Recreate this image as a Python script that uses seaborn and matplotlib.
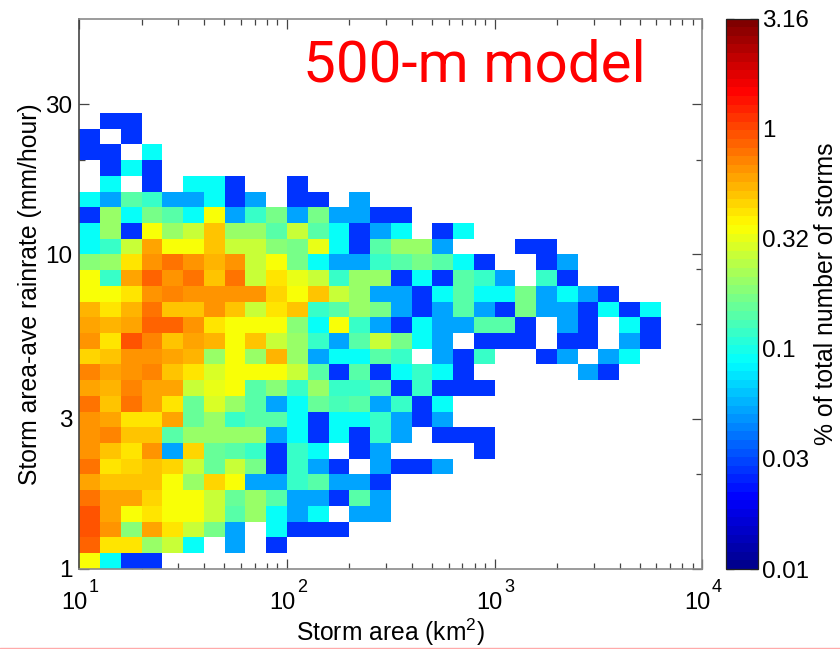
import numpy as np
import matplotlib
matplotlib.use("Agg")
import matplotlib.pyplot as plt
from matplotlib.colors import LinearSegmentedColormap
from matplotlib.lines import Line2D
import seaborn as sns

# =============================
# DATA: % of storms per bin (row_00 = lowest rainrate bin)
# =============================
N = np.nan
B = 0.027   # blue cells
A = 0.054   # light blue cells
C = 0.087   # cyan cells
T = 0.115   # turquoise cells
G = 0.14    # sea green cells

row_00 = [.335, C, B, B]
row_01 = [.85, .42, .42, .21, .27, C, N, A, N, B]
row_02 = [.98, .65, .19, .59, .42, .27, .17, A, N, C, B, B, B]
row_03 = [.98, .59, .335, .42, .36, .36, .27, G, .21, C, A, C, N, A, A]
row_04 = [.82, .59, .59, .46, .36, .36, .27, .155, .195, G, A, A, B, G, A]
row_05 = [.59, .51, .51, .51, .36, .21, .46, .36, A, A, T, G, A, A, B]
row_06 = [.75, .42, .46, .51, .46, .27, .155, .27, .17, B, T, A, B, N, A, B, B, A]
row_07 = [.65, .49, .42, .65, A, .46, .155, G, T, B, T, C, N, B, A, N, N, N, N, B]
row_08 = [.65, .71, .49, .49, G, .21, .195, .195, .21, A, C, B, C, B, T, A, N, B, B, B]
row_09 = [.68, .59, .42, .42, .59, .155, .21, T, G, G, C, B, C, C, T, A, B, A]
row_10 = [.75, .49, .75, .59, .42, .155, .30, .21, G, A, C, .155, .127, G, A, T, B, C]
row_11 = [.59, .57, .71, .59, .59, .27, .31, .335, G, .19, T, .195, T, T, G, B, T, B, B, B]
row_12 = [.71, .59, .65, .71, .51, .43, .30, .335, .36, .335, .27, G, B, G, B, C, T, C, B,
          N, N, N, N, N, A, B]
row_13 = [.46, .51, .65, .65, .59, .54, .21, .335, .21, .54, .195, A, C, C, G, T, N, A, B, T,
          N, N, B, A, N, A, C]
row_14 = [.65, .42, .90, .71, .49, .59, .55, .36, .49, .27, .21, T, A, G, .27, .17, C, A, N,
          B, B, B, N, B, B, N, A, B]
row_15 = [.59, .54, .59, .85, .85, .65, .42, .335, .335, .36, .19, C, .335, T, A, B, C, A, A,
          G, G, B, N, A, B, N, C, B]
row_16 = [.57, .42, .55, .75, .49, .49, .65, .49, .27, .43, .49, T, G, .195, .17, A, B, A, G,
          A, B, .17, A, A, B, C, B, C]
row_17 = [.36, .335, .42, .65, .71, .65, .65, .65, .65, .46, .335, .49, .27, .21, A, A, B, C,
          G, C, C, .17, A, C, A, B]
row_18 = [.335, T, .59, .87, .65, .82, .49, .75, .27, .43, .31, .27, T, .21, .21, B, C, B, G,
          T, A, N, T, B]
row_19 = [.19, .21, .42, .65, .75, .65, .54, .65, .27, .335, .17, C, A, A, T, G, .17, G, C, B,
          N, N, B, A]
row_20 = [C, T, .27, .59, .335, .335, .49, .27, .27, .19, .17, .31, C, B, G, .195, .21, A,
          N, N, N, B, B]
row_21 = [C, .195, B, .335, .21, .27, .49, .21, .21, G, .27, G, C, B, A, C, N, B, C]
row_22 = [B, .21, C, .17, G, C, .335, A, T, .17, A, .17, A, A, B, B]
row_23 = [C, A, G, T, A, A, C, B, A, N, B, B, N, A]
row_24 = [N, C, N, B, N, C, C, B, N, N, B]
row_25 = [N, B, C, B]
row_26 = [B, B, N, C]
row_27 = [B, N, B]
row_28 = [N, B, B]

all_rows = [row_00, row_01, row_02, row_03, row_04, row_05, row_06, row_07, row_08, row_09,
            row_10, row_11, row_12, row_13, row_14, row_15, row_16, row_17, row_18, row_19,
            row_20, row_21, row_22, row_23, row_24, row_25, row_26, row_27, row_28]

n_cols = 30
n_rows = 35
per_decade_x = 10
per_decade_y = 20

x_exponents = [1, 2, 3, 4]
x_minor = [m * 10 ** d for d in (1, 2, 3) for m in range(2, 10)]
y_long = [1, 3, 10, 30]
y_short = [2, 6, 9, 20]
cbar_values = [0.01, 0.03, 0.1, 0.32, 1, 3.16]
cbar_logs = [-2, -1.5, -1, -0.5, 0, 0.5]

# =============================
# GRID
# =============================
grid = np.full((n_rows, n_cols), np.nan)
for i, row in enumerate(all_rows):
    grid[i, :len(row)] = row
log_grid = np.log10(grid)

# matlab style jet, 64 levels
jet = LinearSegmentedColormap.from_list(
    "matlab_jet",
    [(0, "#00008f"), (0.125, "#0000ff"), (0.375, "#00ffff"),
     (0.625, "#ffff00"), (0.875, "#ff0000"), (1, "#800000")],
    N=64,
)

# =============================
# PLOT
# =============================
sns.set_theme(style="white")
plt.rcParams["font.family"] = ["Liberation Sans", "DejaVu Sans"]
plt.rcParams["mathtext.fontset"] = "custom"
plt.rcParams["mathtext.rm"] = "Liberation Sans"
plt.rcParams["mathtext.default"] = "regular"
plt.rcParams["text.color"] = "black"
plt.rcParams["axes.labelcolor"] = "black"
plt.rcParams["xtick.labelcolor"] = "black"
plt.rcParams["ytick.labelcolor"] = "black"

W, H = 840, 649
fig = plt.figure(figsize=(W / 100, H / 100), dpi=100)
ax = fig.add_axes([79.3 / W, 1 - 568.7 / H, 623 / W, 550 / H])
cax = fig.add_axes([726 / W, 1 - 569 / H, 31.7 / W, 550.3 / H])

sns.heatmap(log_grid, ax=ax, cbar_ax=cax, cmap=jet, vmin=-2, vmax=0.5,
            xticklabels=False, yticklabels=False)
ax.set_ylim(0, n_rows)
ax.set_xlim(0, n_cols)

# log axes on the bin index grid
x_pos = [(e - 1) * per_decade_x for e in x_exponents]
ax.set_xticks(x_pos)
ax.set_xticks([(np.log10(v) - 1) * per_decade_x for v in x_minor], minor=True)
ax.set_xticklabels([])
ax.set_yticks([np.log10(v) * per_decade_y for v in y_long])
ax.set_yticks([np.log10(v) * per_decade_y for v in y_short], minor=True)
ax.set_yticklabels([str(v) for v in y_long])

# decade labels, the superscript sits higher than mathtext puts it
for pos, e in zip(x_pos, x_exponents):
    ax.annotate("10", xy=(pos, 0), xytext=(5.8, -29), textcoords="offset points",
                ha="right", va="baseline", fontsize=17)
    ax.annotate(str(e), xy=(pos, 0), xytext=(7, -16.8), textcoords="offset points",
                ha="left", va="baseline", fontsize=13)

ax.tick_params(axis="both", which="major", direction="in", length=7, width=0.9,
               color="#444444", labelsize=17.5, top=True, right=True, bottom=True, left=True)
ax.tick_params(axis="both", which="minor", direction="in", length=4.5, width=0.9,
               color="#444444", top=True, right=True, bottom=True, left=True)
ax.tick_params(axis="y", which="major", pad=5)
for name, spine in ax.spines.items():
    spine.set_visible(True)
    spine.set_linewidth(1.2)
    spine.set_color("#444444" if name == "left" else "#8a8a8a")

ax.set_xlabel("Storm area (km$^2$)", fontsize=17.7, va="top")
ax.xaxis.set_label_coords(0.5, -48 / 550)
ax.set_ylabel("Storm area-ave rainrate (mm/hour)", fontsize=17.8, labelpad=2)

fig.text(474 / W, 1 - 66.5 / H, "500-m model", color="#ff0000",
         fontsize=42, family="Roboto", ha="center", va="center")

# =============================
# COLORBAR
# =============================
cb = ax.collections[0].colorbar
cb.set_ticks(cbar_logs)
cb.set_ticklabels([str(v) for v in cbar_values])
cb.outline.set_visible(True)
cb.outline.set_linewidth(0.9)
cb.outline.set_edgecolor("#222222")
cax.tick_params(axis="y", which="major", direction="in", length=6, width=0.9, color="#222222",
                labelsize=17.4, left=True, right=True, pad=3)
cb.set_label("% of total number of storms", fontsize=17.8, labelpad=3.5)

# pink slide edge at the bottom of the picture
fig.add_artist(Line2D([0, 1], [1 - 647.8 / H, 1 - 647.8 / H], color="#ffaaaa", lw=1,
                      transform=fig.transFigure))

plt.savefig("out.png", dpi=100)
plt.close()
